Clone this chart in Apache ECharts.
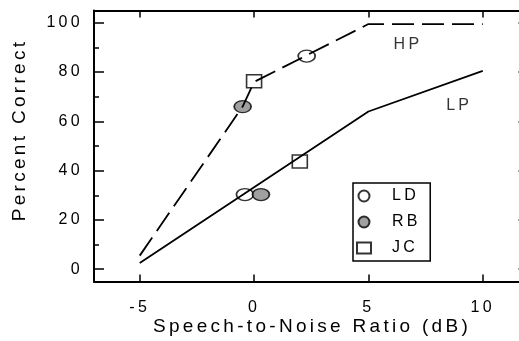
<!DOCTYPE html>
<html>
<head>
<meta charset="utf-8">
<script src="https://cdn.jsdelivr.net/npm/echarts@6/dist/echarts.min.js"></script>
<style>html,body{margin:0;padding:0;background:#fff;}#c{width:519px;height:341px;}</style>
</head>
<body>
<div id="c"></div>
<script>
// ---- data ----
const xTicks = [-5, 0, 5, 10];
const yTicks = [0, 20, 40, 60, 80, 100];
const yMinorTicks = [10, 30, 50, 70, 90];
const hpX = [-5, -0.5, 0, 5, 10];
const hpY = [5.5, 66, 76, 99.5, 99.5];
const lpX = [-5, 5, 10];
const lpY = [2.5, 64, 80.5];
const ldPts = [[-0.4, 30.3], [2.3, 86.5]];
const rbPts = [[-0.5, 66], [0.3, 30.3]];
const jcPts = [[0, 76.3], [2, 43.7]];
const curveLabels = [{name: 'HP', value: [6.1, 91]}, {name: 'LP', value: [8.4, 66.5]}];

// letter-spaced text like the original
(function(){
  const p = CanvasRenderingContext2D.prototype;
  const f = p.fillText;
  p.fillText = function(){ if ('letterSpacing' in this) this.letterSpacing = '3.3px'; return f.apply(this, arguments); };
})();

const FONT = '"Liberation Sans", Arial, sans-serif';
const ellipse = 'path://M0,10a10,10 0 1,0 20,0a10,10 0 1,0 -20,0z';
const zip = (xs, ys) => xs.map((x, i) => [x, ys[i]]);

const chart = echarts.init(document.getElementById('c'), null, {renderer: 'canvas', width: 519, height: 341});
const axisLine = {show: true, onZero: false, lineStyle: {color: '#000', width: 2}};
const xCommon = {type: 'value', min: -7, max: 12, splitLine: {show: false}, axisLine: axisLine};
const yCommon = {type: 'value', min: -5, max: 105, splitLine: {show: false}, axisLine: axisLine};
const tickStyle = {color: '#000', width: 1.5};

chart.setOption({
  animation: false,
  backgroundColor: '#fff',
  textStyle: {fontFamily: FONT},
  grid: {left: 94, top: 10.5, width: 434.5, height: 271, containLabel: false, outerBoundsMode: 'none'},
  xAxis: [
    Object.assign({}, xCommon, {position: 'bottom',
      axisTick: {show: true, inside: true, length: 7, customValues: xTicks, lineStyle: tickStyle},
      axisLabel: {show: true, customValues: xTicks, color: '#000', fontSize: 16, margin: 18, fontFamily: FONT}}),
    Object.assign({}, xCommon, {position: 'top',
      axisTick: {show: true, inside: true, length: 7, customValues: xTicks, lineStyle: tickStyle},
      axisLabel: {show: false}})
  ],
  yAxis: [
    Object.assign({}, yCommon, {position: 'left',
      axisTick: {show: true, inside: true, length: 10, customValues: yTicks, lineStyle: tickStyle},
      axisLabel: {show: true, customValues: yTicks, color: '#000', fontSize: 16, margin: 11, fontFamily: FONT}}),
    Object.assign({}, yCommon, {position: 'left', axisLine: {show: false, onZero: false},
      axisTick: {show: true, inside: true, length: 5, customValues: yMinorTicks, lineStyle: tickStyle},
      axisLabel: {show: false}}),
    Object.assign({}, yCommon, {position: 'right',
      axisTick: {show: true, inside: true, length: 10, customValues: yTicks, lineStyle: tickStyle},
      axisLabel: {show: false}})
  ],
  legend: {
    orient: 'vertical', left: 353, top: 183,
    padding: [5, 16, 5, 3], itemGap: 10, itemWidth: 14, itemHeight: 11,
    borderColor: '#000', borderWidth: 1.5, backgroundColor: '#fff',
    textStyle: {color: '#000', fontSize: 16, lineHeight: 16, fontFamily: FONT, padding: [0, 0, 0, 16]},
    data: ['LD', 'RB', 'JC']
  },
  graphic: [
    {type: 'text', x: 312, y: 327, style: {text: 'Speech-to-Noise Ratio (dB)', fontSize: 19, fontFamily: FONT, fill: '#000', align: 'center', verticalAlign: 'middle'}},
    {type: 'text', x: 20, y: 130, rotation: Math.PI / 2, style: {text: 'Percent Correct', fontSize: 19, fontFamily: FONT, fill: '#000', align: 'center', verticalAlign: 'middle'}}
  ],
  series: [
    {name: 'LD', type: 'scatter', z: 3, data: ldPts, symbol: ellipse, symbolSize: [17, 12],
      itemStyle: {color: '#fff', borderColor: '#000', borderWidth: 1.5}},
    {name: 'RB', type: 'scatter', z: 4, data: rbPts, symbol: ellipse, symbolSize: [17, 12],
      itemStyle: {color: '#888', borderColor: '#000', borderWidth: 1.5}},
    {name: 'JC', type: 'scatter', z: 3, data: jcPts, symbol: 'rect', symbolSize: [15, 13],
      itemStyle: {color: '#fff', borderColor: '#000', borderWidth: 1.5}},
    {name: 'HPline', type: 'line', z: 5, data: zip(hpX, hpY), showSymbol: false, symbol: 'none',
      lineStyle: {color: '#000', width: 1.8, type: [22, 8]}},
    {name: 'LPline', type: 'line', z: 5, data: zip(lpX, lpY), showSymbol: false, symbol: 'none',
      lineStyle: {color: '#000', width: 1.8}},
    {name: 'labels', type: 'scatter', z: 6, data: curveLabels, symbolSize: 0, silent: true,
      label: {show: true, position: 'right', distance: 0, formatter: '{b}', color: '#000', fontSize: 16, fontFamily: FONT, align: 'left', verticalAlign: 'middle'}}
  ]
});
</script>
</body>
</html>
